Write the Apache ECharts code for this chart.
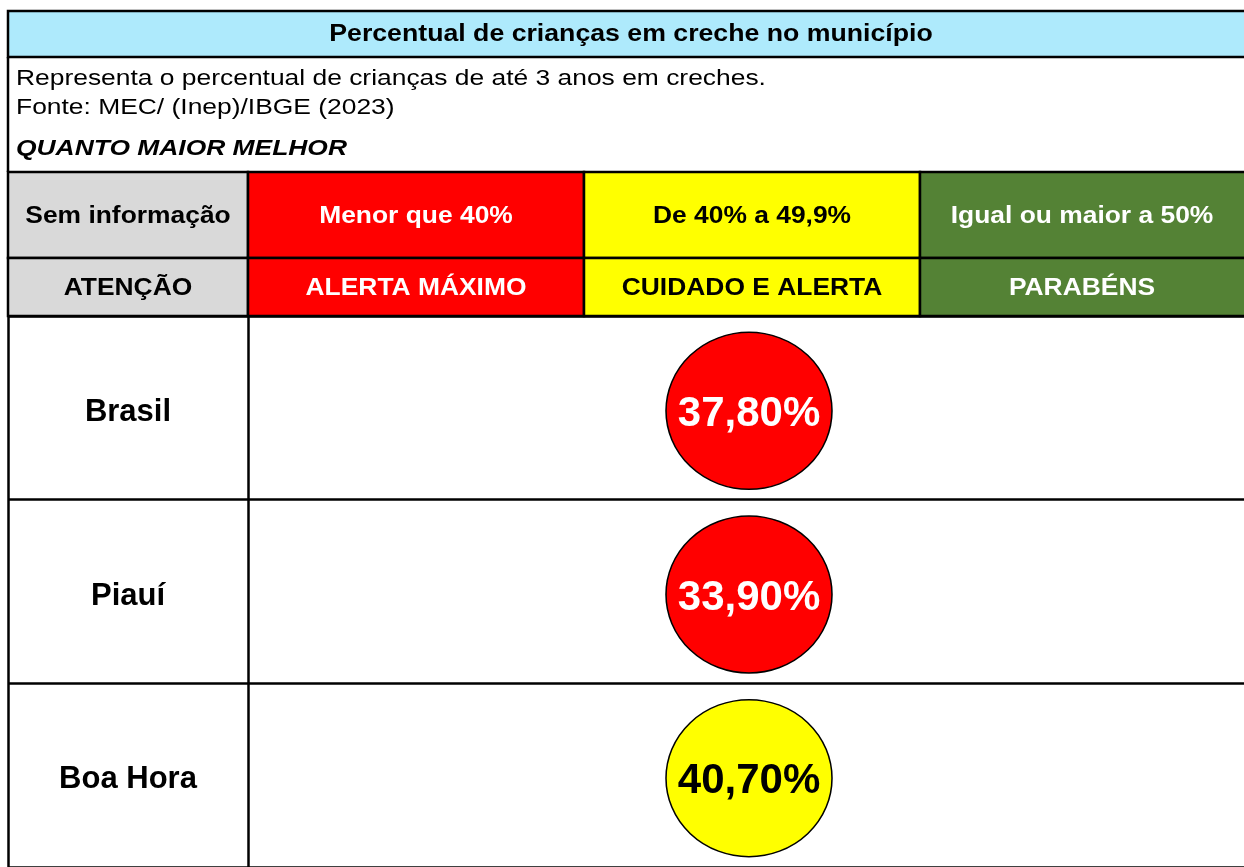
<!DOCTYPE html>
<html>
<head>
<meta charset="utf-8">
<title>Percentual de crianças em creche</title>
<script src="https://cdn.jsdelivr.net/npm/echarts@6/dist/echarts.min.js"></script>
<style>
  html, body { margin: 0; padding: 0; background: #fff; }
  #chart { width: 1244px; height: 867px; }
</style>
</head>
<body>
<div id="chart"></div>
<script>
// dados
var titulo = 'Percentual de crianças em creche no município';
var descricao = ['Representa o percentual de crianças de até 3 anos em creches.', 'Fonte: MEC/ (Inep)/IBGE (2023)'];
var destaque = 'QUANTO MAIOR MELHOR';
var faixas = ['Sem informação', 'Menor que 40%', 'De 40% a 49,9%', 'Igual ou maior a 50%'];
var situacoes = ['ATENÇÃO', 'ALERTA MÁXIMO', 'CUIDADO E ALERTA', 'PARABÉNS'];
var locais = ['Brasil', 'Piauí', 'Boa Hora'];
var percentuais = [37.8, 33.9, 40.7];

var cores = ['#D9D9D9', '#FF0000', '#FFFF00', '#548235'];
var corTexto = ['#000', '#fff', '#000', '#fff'];
var fonte = '"Liberation Sans", Arial, Helvetica, sans-serif';

// limites das colunas do quadro
var colX = [8, 248, 584, 920, 1250];

function faixaDe(v) {
  if (v == null) return 0;
  if (v < 40) return 1;
  if (v < 50) return 2;
  return 3;
}

var graficos = [];
// faixa do título
graficos.push({
  type: 'rect', shape: { x: 8, y: 11, width: 1250, height: 46 },
  style: { fill: '#AEEAFC', stroke: '#000', lineWidth: 2.5 }
});
graficos.push({
  type: 'text', x: 631, y: 35, scaleX: 1.16,
  style: { text: titulo, font: 'bold 23px ' + fonte, fill: '#000', align: 'center', verticalAlign: 'middle' }
});
graficos.push({
  type: 'line', shape: { x1: 8, y1: 57, x2: 8, y2: 172 },
  style: { stroke: '#000', lineWidth: 2.5 }
});
descricao.forEach(function (t, i) {
  graficos.push({
    type: 'text', x: 16, y: 79 + i * 29, scaleX: 1.2,
    style: { text: t, font: '22px ' + fonte, fill: '#000', verticalAlign: 'middle' }
  });
});
graficos.push({
  type: 'text', x: 16, y: 149, scaleX: 1.2,
  style: { text: destaque, font: 'italic bold 22px ' + fonte, fill: '#000', verticalAlign: 'middle' }
});

// legenda de faixas
var linhas = [faixas, situacoes];
var linhaY = [172, 258, 316];
linhas.forEach(function (textos, r) {
  textos.forEach(function (t, c) {
    var x0 = colX[c], x1 = colX[c + 1];
    var y0 = linhaY[r], y1 = linhaY[r + 1];
    graficos.push({
      type: 'rect', shape: { x: x0, y: y0, width: x1 - x0, height: y1 - y0 },
      style: { fill: cores[c], stroke: '#000', lineWidth: 2.5 }
    });
    graficos.push({
      type: 'text', x: (x0 + Math.min(x1, 1244)) / 2, y: (y0 + y1) / 2 + 1, scaleX: 1.1,
      style: { text: t, font: 'bold 24px ' + fonte, fill: corTexto[c], align: 'center', verticalAlign: 'middle' }
    });
  });
});

var linhaEixo = { show: true, lineStyle: { color: '#000', width: 2.5 } };

var chart = echarts.init(document.getElementById('chart'));
chart.setOption({
  backgroundColor: '#fff',
  animation: false,
  graphic: graficos,
  grid: [
    { left: 8, top: 316, width: 240, bottom: 0 },
    { left: 248, top: 316, right: 0, bottom: 0 }
  ],
  xAxis: [
    { gridIndex: 0, type: 'category', data: ['local'], show: false },
    { gridIndex: 1, type: 'category', data: ['valor'], show: false }
  ],
  yAxis: [
    {
      gridIndex: 0, type: 'category', data: locais, inverse: true,
      axisLine: linhaEixo, axisTick: { show: false },
      splitLine: linhaEixo,
      axisLabel: {
        inside: true, margin: 120, align: 'center',
        formatter: '{n|{value}}',
        rich: { n: { padding: [9, 0, 0, 0], fontFamily: fonte, fontSize: 31, fontWeight: 'bold', color: '#000' } },
        fontFamily: fonte, fontSize: 31, fontWeight: 'bold', color: '#000'
      }
    },
    {
      gridIndex: 1, type: 'category', data: locais, inverse: true,
      axisLine: linhaEixo, axisTick: { show: false },
      splitLine: linhaEixo,
      axisLabel: { show: false }
    }
  ],
  series: [{
    type: 'scatter',
    xAxisIndex: 1, yAxisIndex: 1,
    symbol: 'circle',
    symbolSize: [166, 157],
    symbolOffset: [3, 3],
    data: locais.map(function (l, i) {
      var f = faixaDe(percentuais[i]);
      return {
        value: ['valor', l, percentuais[i]],
        itemStyle: { color: cores[f], opacity: 1, borderColor: '#000', borderWidth: 1.5 },
        label: { rich: { p: { color: corTexto[f] } } }
      };
    }),
    label: {
      show: true, position: 'inside',
      rich: { p: { padding: [7, 0, 0, 0], fontFamily: fonte, fontSize: 42, fontWeight: 'bold' } },
      formatter: function (p) {
        return '{p|' + p.value[2].toFixed(2).replace('.', ',') + '%}';
      }
    },
    emphasis: { disabled: true }
  }]
});
</script>
</body>
</html>
